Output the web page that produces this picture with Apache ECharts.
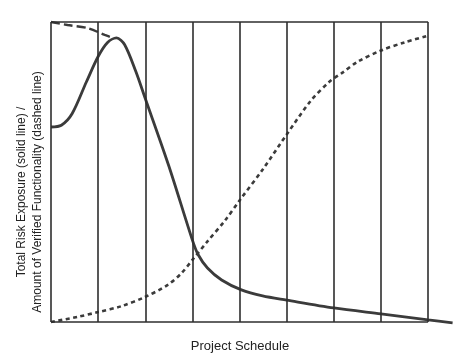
<!DOCTYPE html>
<html>
<head>
<meta charset="utf-8">
<script src="https://cdn.jsdelivr.net/npm/echarts@6/dist/echarts.min.js"></script>
<style>html,body{margin:0;padding:0;background:#fff;}#c{width:473px;height:356px;}</style>
</head>
<body>
<div id="c"></div>
<script>
// Schedule phases (vertical divisions)
var phases = [0, 1, 2, 3, 4, 5, 6, 7, 8];
// Total risk exposure (solid line)
var riskX = [0, 0.22, 0.45, 0.75, 1.0, 1.2, 1.39, 1.56, 1.8, 2.0, 2.5, 3.0, 3.12, 3.32, 3.62, 4.04, 4.49, 5.0, 6.0, 7.0, 8.0, 8.52];
var riskY = [65, 65.6, 69.5, 80, 88.5, 93.2, 94.7, 92.5, 83.5, 74.5, 52, 27.3, 22.5, 18, 14, 10.7, 8.7, 7.3, 4.7, 2.7, 0.7, -0.3];
// Early descending dashed segment
var earlyX = [0, 0.35, 0.77, 1.14, 1.31];
var earlyY = [100, 99, 98, 95.7, 94.7];
// Amount of verified functionality (dashed line)
var funcX = [0, 0.56, 1.0, 1.5, 1.99, 2.47, 2.77, 3.0, 3.3, 3.7, 4.0, 4.5, 5.0, 5.5, 5.9, 6.2, 6.5, 7.0, 7.5, 7.97];
var funcY = [0, 1.7, 3.3, 5.3, 8.3, 12.3, 16.3, 20.7, 26.5, 34, 40.5, 51, 62.5, 73.5, 80, 83.3, 86.7, 90.5, 93.2, 95.3];
var yTop = 100, yBottom = 0;

function zip(xs, ys) { return xs.map(function (x, i) { return [x, ys[i]]; }); }

var segs = [];
phases.forEach(function (p) { segs.push([{ coord: [p, yBottom] }, { coord: [p, yTop] }]); });
segs.push([{ coord: [phases[0], yTop] }, { coord: [phases[phases.length - 1], yTop] }]);
segs.push([{ coord: [phases[0], yBottom] }, { coord: [phases[phases.length - 1], yBottom] }]);

var chart = echarts.init(document.getElementById('c'));
var col = '#3b3b3b';
chart.setOption({
  animation: false,
  grid: { left: 51, right: 19, top: 22, bottom: 25 },
  xAxis: { type: 'value', min: 0, max: 8.55, show: false },
  yAxis: { type: 'value', min: -3, max: 100, show: false },
  series: [
    {
      type: 'line', data: [], silent: true,
      markLine: {
        silent: true, symbol: ['none', 'none'], label: { show: false },
        lineStyle: { color: '#2e2e2e', width: 1.6, type: 'solid' },
        data: segs
      }
    },
    {
      type: 'line', data: zip(funcX, funcY), smooth: 0.3, showSymbol: false, clip: false,
      lineStyle: { color: col, width: 2.6, type: [4, 3.5] }
    },
    {
      type: 'line', data: zip(earlyX, earlyY), smooth: 0.3, showSymbol: false, clip: false,
      lineStyle: { color: col, width: 2.4, type: [9, 4] }
    },
    {
      type: 'line', data: zip(riskX, riskY), smooth: 0.3, showSymbol: false, clip: false,
      lineStyle: { color: col, width: 2.8 }
    }
  ],
  graphic: [
    {
      type: 'text', x: 30, y: 192, rotation: Math.PI / 2,
      style: {
        text: 'Total Risk Exposure (solid line) /\nAmount of Verified Functionality (dashed line)',
        fontFamily: 'Liberation Sans, Arial, sans-serif', fontSize: 12, lineHeight: 16,
        fill: '#222', align: 'center', verticalAlign: 'middle'
      }
    },
    {
      type: 'text', x: 240, y: 346,
      style: {
        text: 'Project Schedule', fontFamily: 'Liberation Sans, Arial, sans-serif', fontSize: 13,
        fill: '#222', align: 'center', verticalAlign: 'middle'
      }
    }
  ]
});
</script>
</body>
</html>
